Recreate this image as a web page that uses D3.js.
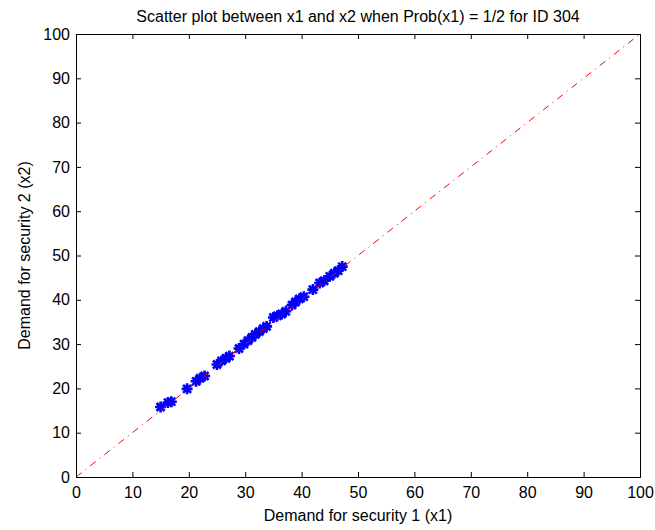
<!DOCTYPE html>
<html>
<head>
<meta charset="utf-8">
<script src="https://cdn.jsdelivr.net/npm/d3@7"></script>
<style>
  body { margin: 0; background: #fff; }
  svg { display: block; }
  text { font-family: "Liberation Sans", Arial, sans-serif; fill: #000; }
</style>
</head>
<body>
<svg id="chart" width="655" height="530"></svg>
<script>
const titleText = "Scatter plot between x1 and x2 when Prob(x1) = 1/2 for ID 304";
const xLabel = "Demand for security 1 (x1)";
const yLabel = "Demand for security 2 (x2)";
const tickValues = [0, 10, 20, 30, 40, 50, 60, 70, 80, 90, 100];
const x1 = [15.0, 16.3, 16.9, 19.7, 21.3, 22.0, 22.8, 25.0, 25.8, 26.6, 27.2, 28.9, 29.8, 30.5, 31.2, 31.8, 32.5, 33.2, 33.8, 35.0, 35.7, 36.5, 37.2, 38.3, 38.9, 39.6, 40.4, 42.0, 43.2, 44.0, 45.0, 45.8, 46.5, 47.2];
const x2 = [15.8, 16.8, 17.0, 19.9, 21.6, 22.3, 22.8, 25.4, 26.2, 26.8, 27.3, 29.0, 30.0, 30.8, 31.5, 32.2, 32.8, 33.5, 34.0, 36.0, 36.4, 36.8, 37.4, 38.8, 39.5, 40.2, 40.7, 42.3, 43.8, 44.3, 45.3, 46.0, 46.6, 47.5];
const refLine = [[0, 0], [100, 100]];

const svg = d3.select("#chart");
const L = 76, R = 640, T = 34, B = 477;
const x = d3.scaleLinear().domain([0, 100]).range([L, R]);
const y = d3.scaleLinear().domain([0, 100]).range([B, T]);
const FS = 16;

// points (asterisk markers)
const pts = x1.map((v, i) => [v, x2[i]]);
const s = 5.5, d = 4;
const star = `M${-s},0L${s},0M0,${-s}L0,${s}M${-d},${-d}L${d},${d}M${-d},${d}L${d},${-d}`;
svg.append("g").selectAll("path").data(pts).join("path")
  .attr("transform", p => `translate(${x(p[0])},${y(p[1])})`)
  .attr("d", star)
  .attr("stroke", "#0000ff").attr("stroke-width", 2.6).attr("fill", "none");

// reference line (dash-dot, drawn over the markers)
svg.append("path")
  .attr("d", d3.line().x(d => x(d[0])).y(d => y(d[1]))(refLine))
  .attr("stroke", "#ff0000").attr("stroke-width", 1).attr("fill", "none")
  .attr("stroke-dasharray", "7,5,1,5");

// axes (ticks inward, box)
const tl = 5;
const axB = svg.append("g").attr("transform", `translate(0,${B})`)
  .call(d3.axisBottom(x).tickValues(tickValues).tickSize(-tl).tickPadding(10));
const axT = svg.append("g").attr("transform", `translate(0,${T})`)
  .call(d3.axisTop(x).tickValues(tickValues).tickSize(-tl).tickFormat(""));
const axL = svg.append("g").attr("transform", `translate(${L},0)`)
  .call(d3.axisLeft(y).tickValues(tickValues).tickSize(-tl).tickPadding(6));
const axR = svg.append("g").attr("transform", `translate(${R},0)`)
  .call(d3.axisRight(y).tickValues(tickValues).tickSize(-tl).tickFormat(""));
[axB, axT, axL, axR].forEach(g => {
  g.select(".domain").attr("stroke", "#000").attr("stroke-width", 1);
  g.selectAll(".tick line").attr("stroke", "#000");
  g.selectAll("text").attr("font-size", FS).attr("font-family", "Liberation Sans, Arial, sans-serif").attr("fill", "#222");
});
axB.selectAll(".tick text").attr("dy", "0.71em");

svg.append("text").attr("x", (L + R) / 2).attr("y", 22)
  .attr("text-anchor", "middle").attr("font-size", FS).attr("fill", "#222").text(titleText);
svg.append("text").attr("x", (L + R) / 2).attr("y", 521)
  .attr("text-anchor", "middle").attr("font-size", FS).attr("fill", "#222").text(xLabel);
svg.append("text").attr("transform", `translate(30,${(T + B) / 2}) rotate(-90)`)
  .attr("text-anchor", "middle").attr("font-size", FS).attr("fill", "#222").text(yLabel);
</script>
</body>
</html>
